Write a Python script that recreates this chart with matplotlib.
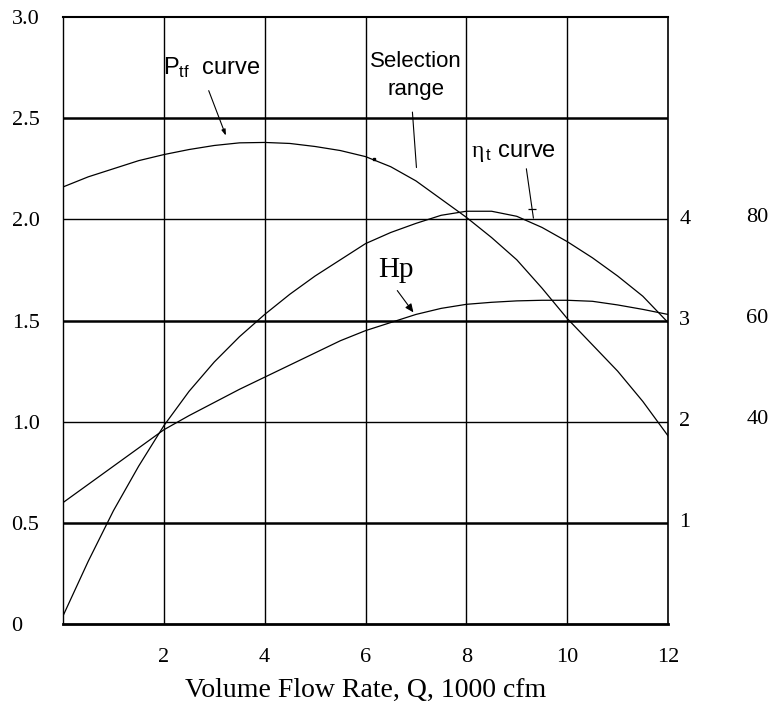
import numpy as np
import matplotlib
matplotlib.use('Agg')
import matplotlib.pyplot as plt

# values (Q in 1000 cfm, steps of 0.5)
q = [0, 0.5, 1, 1.5, 2, 2.5, 3, 3.5, 4, 4.5, 5, 5.5, 6,
     6.5, 7, 7.5, 8, 8.5, 9, 9.5, 10, 10.5, 11, 11.5, 12]
p_tf = [2.16, 2.21, 2.25, 2.29, 2.32, 2.345, 2.365, 2.378, 2.38, 2.375, 2.36, 2.34, 2.31,
        2.26, 2.19, 2.10, 2.01, 1.91, 1.80, 1.66, 1.51, 1.38, 1.25, 1.10, 0.93]
eta_t = [0.04, 0.31, 0.56, 0.78, 0.98, 1.15, 1.295, 1.42, 1.53, 1.63, 1.72, 1.80, 1.88,
         1.935, 1.98, 2.02, 2.04, 2.04, 2.015, 1.96, 1.89, 1.81, 1.72, 1.62, 1.49]
hp = [0.60, 0.69, 0.78, 0.87, 0.96, 1.03, 1.095, 1.16, 1.22, 1.28, 1.34, 1.40, 1.45,
      1.49, 1.53, 1.56, 1.58, 1.59, 1.597, 1.60, 1.60, 1.595, 1.577, 1.555, 1.53]

xticks = [2, 4, 6, 8, 10, 12]
yticks = [0, 0.5, 1.0, 1.5, 2.0, 2.5, 3.0]
ylabels = ['0', '0.5', '1.0', '1.5', '2.0', '2.5', '3.0']
hp_levels = [0.5, 1.0, 1.5, 2.0]
hp_labels = ['1', '2', '3', '4']
eff_levels = [1.0, 1.5, 2.0]
eff_labels = ['40', '60', '80']

plt.rcParams['mathtext.fontset'] = 'custom'
plt.rcParams['mathtext.rm'] = 'Liberation Sans'
plt.rcParams['mathtext.it'] = 'Liberation Serif'

serif = 'Liberation Serif'
sans = 'Liberation Sans'

fig = plt.figure(figsize=(7.74, 7.08), dpi=100)
ax = fig.add_axes([0.0814, 0.1186, 0.7817, 0.8574])

ax.plot(q, p_tf, color='black', lw=0.9)
ax.plot(q, eta_t, color='black', lw=0.9)
ax.plot(q, hp, color='black', lw=0.9)

# grid
for x in [2, 4, 6, 8, 10]:
    ax.axvline(x, color='black', lw=1.0, zorder=0)
for y in [0.5, 1.5, 2.5]:
    ax.axhline(y, color='black', lw=1.8, zorder=0)
for y in [1.0, 2.0]:
    ax.axhline(y, color='black', lw=1.0, zorder=0)

ax.set_xlim(0, 12)
ax.set_ylim(0, 3.0)
ax.spines['bottom'].set_linewidth(2.0)
ax.spines['left'].set_linewidth(1.0)
ax.spines['right'].set_linewidth(1.2)
ax.spines['top'].set_linewidth(1.5)

ax.set_xticks(xticks)
ax.set_xticklabels([str(t) for t in xticks], fontfamily=serif, fontsize=16)
ax.set_yticks(yticks)
ax.set_yticklabels(ylabels, fontfamily=serif, fontsize=16)
ax.tick_params(axis='both', length=0)
ax.tick_params(axis='x', pad=17)
ax.tick_params(axis='y', pad=37)
for lab in ax.get_yticklabels():
    lab.set_horizontalalignment('left')

ax.set_xlabel('Volume Flow Rate, Q, 1000 cfm', fontfamily=serif, fontsize=20, labelpad=8)

# right-hand scales
for lv, lb in zip(hp_levels, hp_labels):
    ax.text(12.22, lv, lb, fontfamily=serif, fontsize=16, ha='left', va='center', clip_on=False)
for lv, lb in zip(eff_levels, eff_labels):
    ax.text(13.55, lv + 0.01, lb, fontfamily=serif, fontsize=16, ha='left', va='center', clip_on=False)

# labels
ax.text(1.98, 2.75, r'$\mathrm{P}_{\mathrm{tf}}$  curve', fontsize=17, fontfamily=sans, va='center', ha='left')
ax.text(7.0, 2.71, 'Selection\nrange', fontsize=16, fontfamily=sans, va='center', ha='center',
        linespacing=1.4)
ax.text(8.09, 2.33, r'$\eta_{\,\mathrm{t}}$ curve', fontsize=17, fontfamily=sans, va='center', ha='left')
ax.text(6.26, 1.75, 'Hp', fontsize=21, fontfamily=serif, va='center', ha='left')

# leader lines
ax.annotate('', xy=(3.23, 2.414), xytext=(2.89, 2.636),
            arrowprops=dict(arrowstyle='-|>,head_length=0.35,head_width=0.12', color='black', lw=0.8,
                            shrinkA=0, shrinkB=0))
ax.annotate('', xy=(7.01, 2.256), xytext=(6.93, 2.53),
            arrowprops=dict(arrowstyle='-', color='black', lw=0.8, shrinkA=0, shrinkB=0))
ax.plot([6.16], [2.30], marker='s', ms=2, color='black')
ax.annotate('', xy=(9.33, 2.006), xytext=(9.19, 2.25),
            arrowprops=dict(arrowstyle='-', color='black', lw=0.8, shrinkA=0, shrinkB=0))
ax.plot([9.31], [2.05], marker='_', ms=6, mew=0.9, color='black')
ax.annotate('', xy=(6.95, 1.54), xytext=(6.63, 1.648),
            arrowprops=dict(arrowstyle='-|>,head_length=0.5,head_width=0.22', color='black', lw=0.8,
                            shrinkA=0, shrinkB=0))

fig.savefig('out.png', dpi=100)
